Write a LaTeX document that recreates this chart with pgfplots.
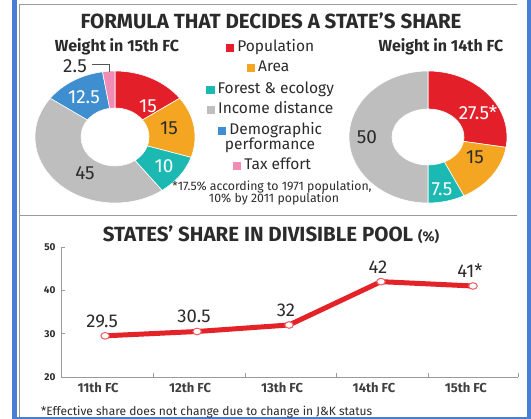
\documentclass[border=0pt]{standalone}
\usepackage{pgfplots}
\pgfplotsset{compat=1.18}
\usepackage{fontspec}
\setmainfont{Fira Sans}
\usetikzlibrary{calc}
\definecolor{cRed}{HTML}{E3202A}
\definecolor{cOrange}{HTML}{F4A623}
\definecolor{cTeal}{HTML}{1CB8B2}
\definecolor{cGrey}{HTML}{BEBEBE}
\definecolor{cBlue}{HTML}{3E8ED0}
\definecolor{cPink}{HTML}{F08CB6}
\definecolor{lineRed}{HTML}{E42328}
\definecolor{frameBlue}{HTML}{4A7DD4}
\definecolor{txt}{HTML}{2B2B2B}
\definecolor{axgrey}{HTML}{9A9A9A}
\newcommand\fsz[1]{\fontsize{#1}{#1}\selectfont}
\newcommand\sq[1]{{\color{#1}\rule[0.3pt]{8.5pt}{7.5pt}}\hspace{3pt}}
\begin{document}
\begin{tikzpicture}[x=1pt,y=1pt]
\fill[white] (0,0) rectangle (531,419);
% ---------- left donut ----------
\begin{axis}[at={(115pt,282pt)}, anchor=center, width=160pt, height=132pt,
  scale only axis, xmin=-1, xmax=1, ymin=-1, ymax=1, hide axis, clip=false]
 \gdef\ang{90}
 \foreach \v/\c in {15/cRed,15/cOrange,10/cTeal,45/cGrey,12.5/cBlue,2.5/cPink}{
   \pgfmathsetmacro\s{\ang}
   \pgfmathsetmacro\e{\ang-3.6*\v}
   \edef\temp{\noexpand\fill[\c, draw=white, line width=0.6pt] (axis cs:0,0) ++(\s:80pt and 66pt) arc[start angle=\s, end angle=\e, x radius=80pt, y radius=66pt] -- ($(axis cs:0,0)+(\e:34pt and 29pt)$) arc[start angle=\e, end angle=\s, x radius=34pt, y radius=29pt] -- cycle;}
   \temp
   \xdef\ang{\e}
 }
\end{axis}
% ---------- right donut ----------
\begin{axis}[at={(428pt,282pt)}, anchor=center, width=158pt, height=132pt,
  scale only axis, xmin=-1, xmax=1, ymin=-1, ymax=1, hide axis, clip=false]
 \gdef\ang{90}
 \foreach \v/\c in {27.5/cRed,15/cOrange,7.5/cTeal,50/cGrey}{
   \pgfmathsetmacro\s{\ang}
   \pgfmathsetmacro\e{\ang-3.6*\v}
   \edef\temp{\noexpand\fill[\c, draw=white, line width=0.6pt] (axis cs:0,0) ++(\s:79pt and 66pt) arc[start angle=\s, end angle=\e, x radius=79pt, y radius=66pt] -- ($(axis cs:0,0)+(\e:36pt and 28pt)$) arc[start angle=\e, end angle=\s, x radius=36pt, y radius=28pt] -- cycle;}
   \temp
   \xdef\ang{\e}
 }
\end{axis}
% ---------- line chart ----------
\begin{axis}[at={(61pt,42pt)}, anchor=south west, width=457pt, height=130pt,
  scale only axis, xmin=0.52, xmax=5.49, ymin=20, ymax=50,
  axis x line*=bottom, axis y line*=left,
  axis line style={axgrey, line width=0.9pt},
  xtick={1,2,3,4,5}, xticklabels={11th FC,12th FC,13th FC,14th FC,15th FC},
  minor xtick={1.52,2.52,3.52,4.52,5.49},
  ytick={20,30,40,50}, minor ytick={20,30,40,50},
  major tick length=0pt, minor tick length=4pt, tick align=inside,
  minor tick style={axgrey, line width=0.8pt},
  xticklabel style={font=\bfseries\fsz{13}, text=txt!90, anchor=base, yshift=-15.5pt, xshift=-7pt},
  yticklabel style={font=\bfseries\fsz{10}, text=txt, xshift=-2pt},
  /pgf/number format/assume math mode=true,
  clip=false]
 \addplot[color=lineRed, line width=5pt, mark=*, mark size=3.3pt,
   mark options={fill=white, draw=lineRed!75, line width=1pt, xscale=1.3},
   nodes near coords, point meta=explicit symbolic,
   every node near coord/.append style={anchor=base, yshift=8.5pt, xshift=-3pt, font=\fsz{18.5}, text=txt}]
   table[meta=label] {
x y label
1 29.5 29.5
2 30.5 30.5
3 32 32
4 42 42
5 41 41*
};
\end{axis}
% ---------- absolute texts and frame (image coordinates) ----------
\begin{scope}[shift={(0,419)}, yscale=-1]
 \fill[frameBlue] (12,0) rectangle (17,419);
 \fill[frameBlue] (527,0) rectangle (531,419);
 \fill[frameBlue] (12,417.3) rectangle (531,419);
 \draw[axgrey, line width=0.9pt] (19,417) -- (19,4) -- (517,4);
 \draw[axgrey, line width=0.9pt] (19,215) -- (517,215);
 \node[font=\bfseries\fsz{20.5}, text=txt, anchor=base] at (271,28.5) {FORMULA THAT DECIDES A STATE’S SHARE};
 \node[font=\bfseries\fsz{16}, text=txt, anchor=base] at (117,52) {Weight in 15th FC};
 \node[font=\bfseries\fsz{16}, text=txt, anchor=base] at (441,52) {Weight in 14th FC};
 % legend
 \begin{scope}[every node/.style={font=\fsz{15.5}, text=txt, anchor=base}]
  \node at (270,52) {\sq{cRed}Population};
  \node at (268,72) {\sq{cOrange}Area};
  \node at (270,94) {\sq{cTeal}Forest \& ecology};
  \node at (270,114) {\sq{cGrey}Income distance};
  \node at (270,135) {\sq{cBlue}Demographic};
  \node at (270,150) {performance};
  \node at (272,170) {\sq{cPink}Tax effort};
 \end{scope}
 \node[font=\fsz{12.3}, text=txt, anchor=base] at (272,191) {*17.5\% according to 1971 population,};
 \node[font=\fsz{12.3}, text=txt, anchor=base] at (274,203) {10\% by 2011 population};
 % donut labels
 \begin{scope}[every node/.style={font=\fsz{19}, anchor=center}]
  \node[text=white] at (148,106) {15};
  \node[text=txt] at (169,128) {15};
  \node[text=white] at (164,166) {10};
  \node[text=txt] at (85,173) {45};
  \node[text=white] at (84,97) {12.5};
  \node[text=txt] at (75,66) {2.5};
  \node[text=white] at (478,113) {27.5*};
  \node[text=txt] at (475,157) {15};
  \node[text=white] at (442,189) {7.5};
  \node[text=txt] at (367,137) {50};
 \end{scope}
 \draw[txt!80, line width=0.7pt] (92,64) -- (109,64) -- (109,72);
 % second title
 \node[font=\bfseries\fsz{20.5}, text=txt, anchor=base] at (271,242) {STATES’ SHARE IN DIVISIBLE POOL {\fsz{14}(\%)}};
 \node[font=\fsz{12}, text=txt, anchor=base west, inner sep=0pt] at (41,415.5) {*Effective share does not change due to change in J\&K status};
\end{scope}
\end{tikzpicture}
\end{document}
